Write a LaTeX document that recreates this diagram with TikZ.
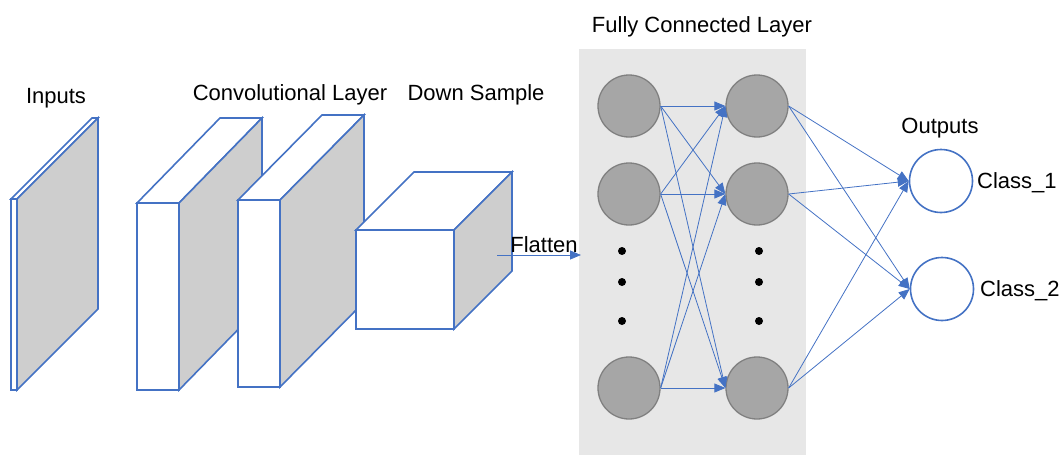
\documentclass[tikz,border=0pt]{standalone}
\usepackage{fontspec}
\setmainfont{Liberation Sans}
\usetikzlibrary{arrows.meta}
\definecolor{mblue}{HTML}{4472C4}
\definecolor{sidegray}{HTML}{CECECE}
\definecolor{boxgray}{HTML}{E7E7E7}
\definecolor{nodegray}{HTML}{A6A6A6}
\definecolor{nodeedge}{HTML}{808080}
\newcommand\myslab[6]{%
  \filldraw[face, fill=white] (#1,#2) rectangle (#3,#4);
  \filldraw[face, fill=white] (#1,#2) -- (#1+#5,#2-#6) -- (#3+#5,#2-#6) -- (#3,#2) -- cycle;
  \filldraw[face, fill=sidegray] (#3,#2) -- (#3+#5,#2-#6) -- (#3+#5,#4-#6) -- (#3,#4) -- cycle;}
\tikzset{
  face/.style={draw=mblue, line width=1.6pt, line join=miter},
  lbl/.style={font=\fontsize{22}{26}\selectfont, inner sep=0pt},
  neuron/.style={circle, draw=nodeedge, fill=nodegray, line width=1.3pt, minimum size=62pt, inner sep=0pt},
  outn/.style={circle, draw=mblue, fill=white, line width=1.6pt, minimum size=63pt, inner sep=0pt},
  conn/.style={draw=mblue, line width=0.8pt, -{Triangle[length=11pt,width=9pt]}},
  dot/.style={circle, fill=black, minimum size=8pt, inner sep=0pt},
}
\begin{document}
\begin{tikzpicture}[x=1pt,y=-1pt]
\useasboundingbox (0,0) rectangle (1062,455);
% slabs
\myslab{11}{199}{17}{390}{81}{81}
\myslab{137}{203}{179}{390}{83}{85}
\myslab{238}{200}{280}{387}{84}{85}
\myslab{356}{230}{454}{329}{58}{58}
% labels
\node[lbl] (tin) at (56,98) {Inputs};
\node[lbl] (tconv) at (290,95) {Convolutional Layer};
\node[lbl] (tds) at (476,95) {Down Sample};
\node[lbl] (tfc) at (702,27) {Fully Connected Layer};
\node[lbl] (tout) at (940,128) {Outputs};
% fc box
\node[fill=boxgray, minimum width=227pt, minimum height=406pt, inner sep=0pt, anchor=north west] (fc) at (579,49) {};
% flatten
\node[lbl] (tfl) at (544,245) {Flatten};
\coordinate (fs) at (497,255);
\coordinate (fe) at (581,255);
\draw[conn] (fs) -- (fe);
% neurons
\node[neuron] (l1) at (629,106) {};
\node[neuron] (l2) at (629,194) {};
\node[neuron] (l3) at (629,388) {};
\node[neuron] (r1) at (757,106) {};
\node[neuron] (r2) at (757,194) {};
\node[neuron] (r3) at (757,388) {};
\foreach \y [count=\i] in {251,282,321}{
  \node[dot] (ld\i) at (622,\y) {};
  \node[dot] (rd\i) at (759,\y) {};
}
\node[outn] (c1) at (941,181) {};
\node[outn] (c2) at (942,289) {};
\node[lbl, anchor=west] (tc1) at (977,183) {Class\_1};
\node[lbl, anchor=west] (tc2) at (980,291) {Class\_2};
% connections
\foreach \a in {l1,l2,l3}{
  \foreach \b in {r1,r2,r3}{
    \draw[conn] (\a.east) -- (\b.west);
  }
}
\foreach \a in {r1,r2,r3}{
  \foreach \b in {c1,c2}{
    \draw[conn] (\a.east) -- (\b.west);
  }
}
\end{tikzpicture}
\end{document}
